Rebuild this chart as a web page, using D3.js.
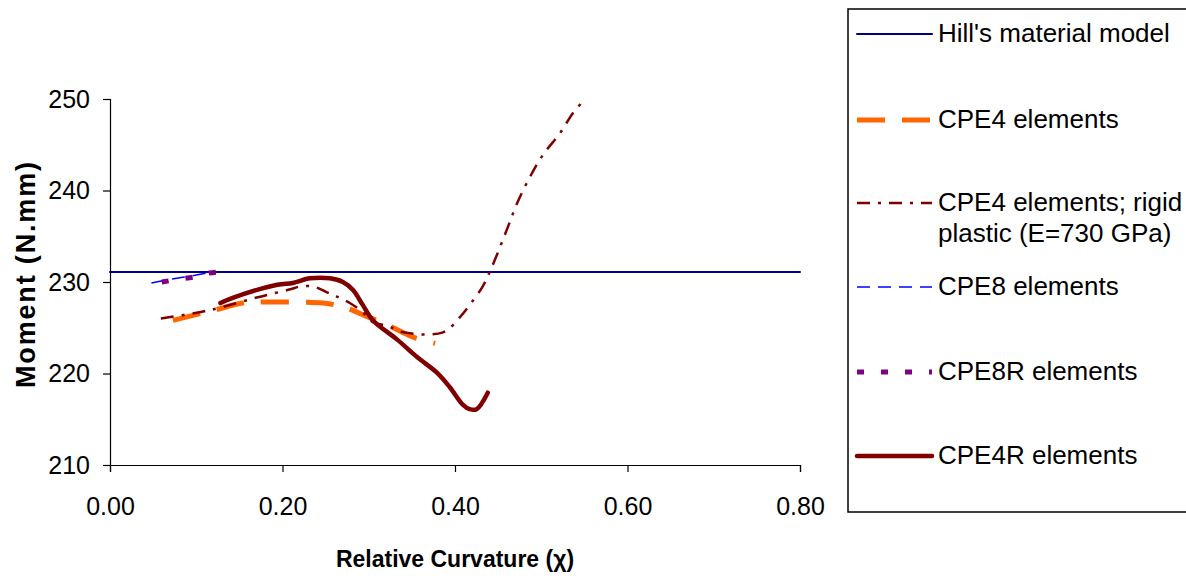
<!DOCTYPE html>
<html>
<head>
<meta charset="utf-8">
<script src="https://cdn.jsdelivr.net/npm/d3@7"></script>
<style>
body { margin: 0; background: #fff; }
svg { font-family: "Liberation Sans", Arial, sans-serif; }
</style>
</head>
<body>
<div id="paper"></div>
<script>
// data: [relative curvature, moment]
const hill = [[0.00, 231.1], [0.80, 231.1]];
const cpe4 = [[0.073, 225.8], [0.12, 226.9], [0.154, 227.7], [0.174, 227.8], [0.224, 227.8],
  [0.247, 227.7], [0.27, 227.3], [0.301, 226.1], [0.322, 225.3], [0.351, 224.0], [0.377, 223.3]];
const cpe4Rigid = [[0.059, 226.0], [0.104, 226.7], [0.128, 227.2], [0.17, 228.3], [0.209, 229.2],
  [0.22, 229.5], [0.236, 229.5], [0.251, 228.9], [0.263, 228.4], [0.278, 227.7], [0.293, 226.7],
  [0.305, 225.6], [0.322, 225.2], [0.34, 224.5], [0.386, 224.5], [0.406, 226.2], [0.417, 227.5],
  [0.432, 229.5], [0.443, 231.7], [0.46, 235.7], [0.472, 238.6], [0.487, 241.5], [0.502, 243.9],
  [0.522, 246.3], [0.537, 248.5], [0.549, 249.8]];
const cpe8 = [[0.048, 229.9], [0.07, 230.3], [0.09, 230.6], [0.114, 231.0]];
const cpe8r = [[0.06, 230.0], [0.08, 230.3], [0.10, 230.6], [0.11, 230.9], [0.125, 231.1]];
const cpe4r = [[0.128, 227.7], [0.143, 228.3], [0.194, 229.7], [0.212, 229.9], [0.232, 230.4],
  [0.255, 230.4], [0.27, 230.0], [0.282, 229.1], [0.293, 227.5], [0.305, 225.8], [0.333, 223.7],
  [0.356, 221.8], [0.379, 220.1], [0.394, 218.5], [0.409, 216.6], [0.417, 216.1], [0.425, 216.1],
  [0.438, 217.9]];

const xTicks = [0, 0.2, 0.4, 0.6, 0.8];
const yTicks = [210, 220, 230, 240, 250];

const series = [
  {name: ["Hill's material model"], data: hill, color: "#000080", width: 2, dash: null, ly: 34},
  {name: ["CPE4 elements"], data: cpe4, color: "#FF6600", width: 5, dash: "28,17", ly: 120},
  {name: ["CPE4 elements; rigid", "plastic (E=730 GPa)"], data: cpe4Rigid, color: "#800000", width: 2.5, dash: "13,8,3,8", ly: 203},
  {name: ["CPE8 elements"], data: cpe8, color: "#0000FF", width: 1.5, dash: "13,8", ly: 287},
  {name: ["CPE8R elements"], data: cpe8r, color: "#800080", width: 5, dash: "7,17", ly: 372},
  {name: ["CPE4R elements"], data: cpe4r, color: "#800000", width: 4.5, dash: null, ly: 456}
];

const width = 1186, height = 576;
const svg = d3.select("#paper").append("svg")
  .attr("width", width).attr("height", height);

const x = d3.scaleLinear().domain([0, 0.8]).range([110, 800]);
const y = d3.scaleLinear().domain([210, 250]).range([465, 99]);

const xAxis = svg.append("g")
  .attr("transform", `translate(0,${y(210)})`)
  .call(d3.axisBottom(x).tickValues(xTicks).tickFormat(d3.format(".2f")).tickSize(7).tickPadding(25));
const yAxis = svg.append("g")
  .attr("transform", `translate(${x(0)},0)`)
  .call(d3.axisLeft(y).tickValues(yTicks).tickSize(7).tickPadding(13));

[xAxis, yAxis].forEach(a => {
  a.select(".domain").attr("stroke", "#000").attr("stroke-width", 1.2);
  a.selectAll(".tick line").attr("stroke", "#000").attr("stroke-width", 1.2);
  a.selectAll(".tick text").attr("font-size", 25).attr("fill", "#000")
    .attr("font-family", "'Liberation Sans', Arial, sans-serif");
});

svg.append("text")
  .attr("transform", `translate(35,275) rotate(-90)`)
  .attr("text-anchor", "middle")
  .attr("font-size", 27).attr("font-weight", "bold")
  .attr("textLength", 226).attr("lengthAdjust", "spacing")
  .text("Moment (N.mm)");

svg.append("text")
  .attr("x", 455).attr("y", 567)
  .attr("text-anchor", "middle")
  .attr("font-size", 23).attr("font-weight", "bold")
  .text("Relative Curvature (χ)");

const line = d3.line().x(d => x(d[0])).y(d => y(d[1])).curve(d3.curveCatmullRom);

svg.append("g").selectAll("path")
  .data(series)
  .join("path")
  .attr("fill", "none")
  .attr("stroke", d => d.color)
  .attr("stroke-width", d => d.width)
  .attr("stroke-dasharray", d => d.dash)
  .attr("stroke-linecap", d => d.dash ? "butt" : "round")
  .attr("d", d => line(d.data));

// legend
const legend = svg.append("g");
legend.append("rect")
  .attr("x", 848).attr("y", 9).attr("width", 400).attr("height", 503)
  .attr("fill", "#fff").attr("stroke", "#000").attr("stroke-width", 1.5);

const item = legend.selectAll("g.item")
  .data(series)
  .join("g").attr("class", "item");

item.append("line")
  .attr("x1", 857).attr("x2", 932)
  .attr("y1", d => d.ly).attr("y2", d => d.ly)
  .attr("stroke", d => d.color)
  .attr("stroke-width", d => d.width)
  .attr("stroke-dasharray", d => d.dash)
  .attr("stroke-linecap", d => d.dash ? "butt" : "round");

item.append("text")
  .attr("font-size", 26)
  .selectAll("tspan")
  .data(d => d.name.map((t, i) => ({t, y: d.ly + 8 + i * 31})))
  .join("tspan")
  .attr("x", 938)
  .attr("y", d => d.y)
  .text(d => d.t);
</script>
</body>
</html>
